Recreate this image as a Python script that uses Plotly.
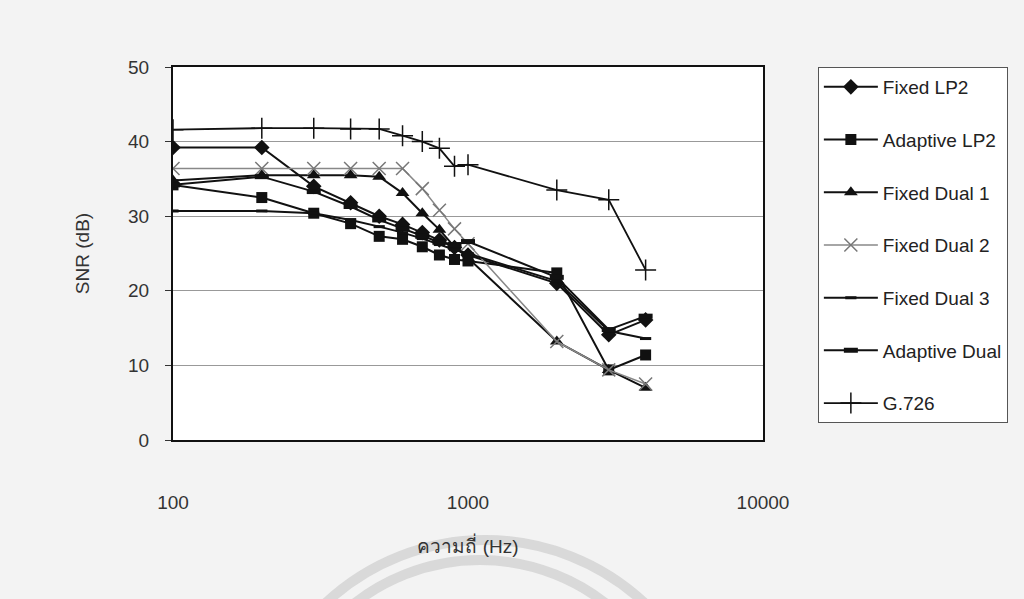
import plotly.graph_objects as go

freq = [100, 200, 300, 400, 500, 600, 700, 800, 900, 1000, 2000, 3000, 4000]

fixed_lp2 = [39.2, 39.2, 34.0, 31.8, 30.0, 28.9, 27.8, 26.8, 25.8, 24.8, 21.0, 14.1, 16.1]
adaptive_lp2 = [34.2, 32.5, 30.4, 29.0, 27.3, 26.9, 25.9, 24.8, 24.2, 24.0, 22.4, 9.4, 11.4]
fixed_dual1 = [34.8, 35.5, 35.5, 35.5, 35.3, 33.1, 30.4, 28.2, 25.9, 24.4, 13.2, 9.4, 7.0]
fixed_dual2 = [36.4, 36.4, 36.4, 36.4, 36.4, 36.4, 33.7, 30.8, 28.3, 26.3, 13.2, 9.4, 7.5]
fixed_dual3 = [30.7, 30.7, 30.4, 29.5, 28.6, 27.8, 27.0, 26.2, 25.5, 25.0, 21.3, 14.6, 13.6]
adaptive_dual = [34.2, 35.3, 33.3, 31.3, 29.5, 28.3, 27.3, 26.5, 26.2, 26.6, 21.8, 14.8, 16.6]
g726 = [41.6, 41.8, 41.8, 41.7, 41.7, 40.8, 40.0, 39.1, 36.7, 36.9, 33.5, 32.2, 22.8]

x_ticks = [100, 1000, 10000]
x_tick_text = ["100", "1000", "10000"]
y_ticks = [0, 10, 20, 30, 40, 50]

series = [
    ("Fixed LP2", fixed_lp2, dict(symbol="diamond", size=12, color="#111"), dict(color="#111", width=2)),
    ("Adaptive LP2", adaptive_lp2, dict(symbol="square", size=11, color="#111"), dict(color="#111", width=2)),
    ("Fixed Dual 1", fixed_dual1, dict(symbol="triangle-up", size=12, color="#111"), dict(color="#111", width=2)),
    ("Fixed Dual 2", fixed_dual2, dict(symbol="x-thin", size=13, color="#777", line=dict(color="#777", width=1.5)), dict(color="#888", width=1.5)),
    ("Fixed Dual 3", fixed_dual3, dict(symbol="line-ew", size=8, color="#111", line=dict(color="#111", width=3)), dict(color="#111", width=2)),
    ("Adaptive Dual", adaptive_dual, dict(symbol="line-ew", size=10, color="#111", line=dict(color="#111", width=5)), dict(color="#111", width=2)),
    ("G.726", g726, dict(symbol="cross-thin", size=15, color="#111", line=dict(color="#111", width=1.5)), dict(color="#111", width=1.8)),
]

fig = go.Figure()
for i, (name, vals, mk, ln) in enumerate(series):
    fig.add_trace(go.Scatter(x=freq, y=vals, name=name, mode="lines+markers",
                             marker=mk, line=ln, legendgroup=f"g{i}"))

font_family = "Liberation Sans, Arial, sans-serif"

fig.update_layout(
    width=1024, height=599,
    margin=dict(l=173, r=261, t=67, b=159),
    paper_bgcolor="#f3f3f3",
    plot_bgcolor="white",
    font=dict(family=font_family, size=18, color="#222"),
    showlegend=True,
    legend=dict(
        x=1.093, xanchor="left", y=1.0, yanchor="top",
        bgcolor="white", bordercolor="#555", borderwidth=1,
        font=dict(size=19, color="#222"),
        tracegroupgap=25,
        itemwidth=54,
    ),
    xaxis=dict(
        type="log", range=[2, 4],
        tickvals=x_ticks, ticktext=x_tick_text,
        showgrid=False, showline=True, linecolor="#111", linewidth=2, mirror=True,
        ticks="", ticklabelstandoff=44,
        tickfont=dict(size=19, color="#333"),
        title=dict(text="ความถี่ (Hz)", font=dict(size=19, color="#333"), standoff=28),
        zeroline=False,
    ),
    yaxis=dict(
        range=[0, 50], tickvals=y_ticks,
        showgrid=True, gridcolor="#999", gridwidth=1,
        showline=True, linecolor="#111", linewidth=2, mirror=True,
        ticks="outside", ticklen=6, tickcolor="#333",
        ticklabelstandoff=12,
        tickfont=dict(size=19, color="#333"),
        title=dict(text="SNR (dB)", font=dict(size=19, color="#333"), standoff=33),
        zeroline=False,
    ),
    shapes=[
        dict(type="circle", xref="paper", yref="paper", x0=0.134, x1=0.924, y0=-1.517, y1=-0.268,
             line=dict(color="rgba(205,205,205,0.7)", width=10), layer="below"),
        dict(type="circle", xref="paper", yref="paper", x0=0.175, x1=0.866, y0=-1.416, y1=-0.322,
             line=dict(color="rgba(205,205,205,0.7)", width=10), layer="below"),
    ],
)

fig.write_html("out.html")
